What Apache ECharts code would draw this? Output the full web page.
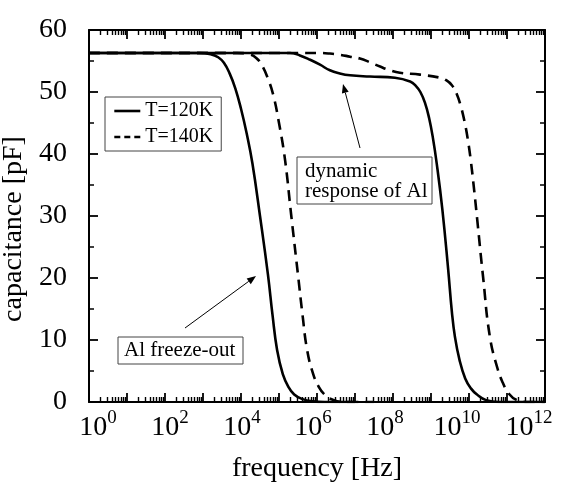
<!DOCTYPE html>
<html><head><meta charset="utf-8">
<script src="https://cdn.jsdelivr.net/npm/echarts@6/dist/echarts.min.js"></script>
<style>html,body{margin:0;padding:0;background:#fff}#c{width:562px;height:484px}</style>
</head><body><div id="c"></div>
<script>
// x values are log10(frequency / Hz)
const xMin = 0, xMax = 12;
const yMin = 0, yMax = 60;
const xLabelExps = [0, 2, 4, 6, 8, 10, 12];
const yTickLabels = [0, 10, 20, 30, 40, 50, 60];

// T=120K, Al freeze-out step
const t120FreezeLogF = [0, 2.6, 2.9, 3.2, 3.4, 3.55, 3.7, 3.85, 4.0, 4.15, 4.3, 4.5, 4.71, 4.83, 4.95, 5.1, 5.25, 5.4, 5.6, 5.9, 6.2, 7];
const t120FreezeC    = [56.3, 56.3, 56.3, 56.1, 55.6, 54.7, 53.0, 50.6, 47.3, 43.3, 38.5, 30.0, 20.5, 14.0, 8.4, 4.5, 2.4, 1.2, 0.5, 0.1, 0, 0];
// T=140K, Al freeze-out step
const t140FreezeLogF = [0, 3.6, 3.9, 4.2, 4.4, 4.55, 4.7, 4.85, 5.0, 5.16, 5.32, 5.5, 5.62, 5.74, 5.9, 6.05, 6.2, 6.4, 6.7, 7.5];
const t140FreezeC    = [56.3, 56.3, 56.3, 56.1, 55.5, 54.3, 52.3, 49.5, 45.0, 39.0, 30.2, 20.5, 14.0, 8.4, 4.5, 2.4, 1.2, 0.4, 0, 0];
// T=120K, dynamic response of Al + high-frequency step
const t120DynLogF = [0, 5.0, 5.29, 5.55, 5.82, 6.08, 6.34, 6.6, 6.87, 7.39, 8.05, 8.45, 8.6, 8.72, 8.84, 8.95, 9.05, 9.15, 9.30, 9.45, 9.55, 9.63, 9.75, 9.9, 10.05, 10.21, 10.45, 10.8, 12];
const t120DynC    = [56.3, 56.3, 56.3, 55.9, 55.2, 54.4, 53.5, 53.0, 52.7, 52.5, 52.3, 51.7, 51.0, 50.0, 48.3, 45.8, 42.6, 38.5, 31.0, 21.5, 14.5, 10.5, 6.8, 3.8, 2.2, 1.2, 0.3, 0, 0];
// T=140K, dynamic response of Al + high-frequency step
const t140DynLogF = [0, 6.0, 6.34, 6.61, 6.87, 7.13, 7.39, 7.66, 7.92, 8.18, 8.71, 9.24, 9.4, 9.55, 9.67, 9.78, 9.88, 9.97, 10.05, 10.13, 10.21, 10.37, 10.55, 10.76, 10.89, 11.03, 11.26, 11.61, 12];
const t140DynC    = [56.3, 56.3, 56.2, 56.0, 55.7, 55.4, 54.8, 54.1, 53.5, 53.1, 52.8, 52.3, 51.9, 51.1, 49.8, 47.8, 45.3, 42.3, 38.8, 34.5, 29.8, 20.2, 10.5, 5.2, 3.1, 1.5, 0.3, 0, 0];

const legendNames = ['T=120K', 'T=140K'];

const pair = (xs, ys) => xs.map((x, i) => [x, ys[i]]);
const FONT = "'Liberation Serif','DejaVu Serif','Times New Roman',serif";
const DASH = [11, 7];

const minorX = [];
for (let n = xMin; n < xMax; n++) for (let k = 2; k <= 9; k++) minorX.push(n + Math.log10(k));

// rich styles for "10^n" labels; slight per-label horizontal nudge like the original typesetting
const xRich = {};
xLabelExps.forEach(v => {
  const d = Math.round(9 - 2.1 * v);
  xRich['b' + v] = { fontFamily: FONT, fontSize: 28, color: '#000', lineHeight: 30, padding: [0, 0, 0, Math.max(0, 2 * d)] };
  xRich['s' + v] = { fontFamily: FONT, fontSize: 19, color: '#000', lineHeight: 30, padding: [0, Math.max(0, -2 * d), 20, 0] };
});

const axisLineStyle = { color: '#000', width: 2 };
function xAxisBase(pos, showLabels, minor) {
  return {
    type: 'value', position: pos, min: xMin, max: xMax, interval: 1,
    axisLine: { show: !minor, onZero: false, lineStyle: axisLineStyle },
    axisTick: minor
      ? { show: true, inside: true, length: 5, lineStyle: { color: '#000', width: 1.4 }, customValues: minorX }
      : { show: true, inside: true, length: 9, lineStyle: { color: '#000', width: 1.8 } },
    axisLabel: showLabels ? {
      show: true, margin: 11, customValues: xLabelExps,
      formatter: v => '{b' + v + '|10}{s' + v + '|' + v + '}',
      rich: xRich
    } : { show: false },
    splitLine: { show: false },
    name: showLabels ? 'frequency [Hz]' : '',
    nameLocation: 'middle', nameGap: 53,
    nameTextStyle: { fontFamily: FONT, fontSize: 28, color: '#000' }
  };
}
function yAxisBase(pos, showLabels) {
  return {
    type: 'value', position: pos, min: yMin, max: yMax, interval: 10,
    axisLine: { show: true, onZero: false, lineStyle: axisLineStyle },
    axisTick: { show: true, inside: true, length: 9, lineStyle: { color: '#000', width: 1.8 } },
    minorTick: { show: true, splitNumber: 2, length: 5, lineStyle: { color: '#000', width: 1.5 } },
    axisLabel: showLabels ? { show: true, margin: 22, customValues: yTickLabels, fontFamily: FONT, fontSize: 28, color: '#000' } : { show: false },
    splitLine: { show: false },
    name: showLabels ? 'capacitance [pF]' : '',
    nameLocation: 'middle', nameGap: 52,
    nameTextStyle: { fontFamily: FONT, fontSize: 28, color: '#000', padding: [0, 26, 0, 0] }
  };
}

function lineSeries(name, data, dashed) {
  return {
    name, type: 'line', data, symbol: 'none', smooth: 0.45,
    xAxisIndex: 0, yAxisIndex: 0, z: 3,
    lineStyle: { color: '#000', width: 2.6, type: dashed ? DASH : 'solid' },
    itemStyle: { color: '#000' }
  };
}

const chart = echarts.init(document.getElementById('c'), null, { renderer: 'canvas' });

function arrow(x1, y1, x2, y2) {
  const ang = Math.atan2(y2 - y1, x2 - x1);
  const L = 9, W = 3.5;
  const bx = x2 - L * Math.cos(ang), by = y2 - L * Math.sin(ang);
  const px = -Math.sin(ang), py = Math.cos(ang);
  return [
    { type: 'line', shape: { x1, y1, x2: bx, y2: by }, style: { stroke: '#000', lineWidth: 1 }, z: 10 },
    { type: 'polygon', shape: { points: [[x2, y2], [bx + px * W, by + py * W], [bx - px * W, by - py * W]] }, style: { fill: '#000' }, z: 10 }
  ];
}

const graphics = [
  { type: 'rect', shape: { x: 297, y: 157, width: 135, height: 47 }, style: { fill: '#fff', stroke: '#444', lineWidth: 1 }, z: 10 },
  { type: 'text', x: 305, y: 161, style: { text: 'dynamic\nresponse of Al', font: '21px ' + FONT, fill: '#000', lineHeight: 20 }, z: 11 },
  { type: 'rect', shape: { x: 118, y: 337, width: 125, height: 27 }, style: { fill: '#fff', stroke: '#444', lineWidth: 1 }, z: 10 },
  { type: 'text', x: 124, y: 340, style: { text: 'Al freeze-out', font: '21px ' + FONT, fill: '#000', lineHeight: 21 }, z: 11 },
  ...arrow(360, 148, 343, 84),
  ...arrow(185, 328, 256, 276)
];

chart.setOption({
  animation: false,
  backgroundColor: '#fff',
  grid: { left: 89, right: 17, top: 30, bottom: 82, containLabel: false, outerBoundsMode: 'none' },
  xAxis: [xAxisBase('bottom', true, false), xAxisBase('bottom', false, true), xAxisBase('top', false, false), xAxisBase('top', false, true)],
  yAxis: [yAxisBase('left', true), yAxisBase('right', false)],
  legend: {
    data: [
      { name: legendNames[0], lineStyle: { type: 'solid', width: 2.6, color: '#000' } },
      { name: legendNames[1], lineStyle: { type: [6, 4], width: 2.6, color: '#000' } }
    ],
    orient: 'vertical', left: 105, top: 97,
    itemWidth: 26, itemHeight: 14, itemGap: 6,
    padding: [4, 8, 4, 8],
    borderColor: '#444', borderWidth: 1, backgroundColor: '#fff',
    itemStyle: { color: 'rgba(0,0,0,0)', borderWidth: 0, opacity: 0 },
    textStyle: { fontFamily: FONT, fontSize: 20, color: '#000' }
  },
  series: [
    lineSeries(legendNames[0], pair(t120FreezeLogF, t120FreezeC), false),
    lineSeries(legendNames[1], pair(t140FreezeLogF, t140FreezeC), true),
    lineSeries(legendNames[0], pair(t120DynLogF, t120DynC), false),
    lineSeries(legendNames[1], pair(t140DynLogF, t140DynC), true)
  ],
  graphic: graphics
});
</script></body></html>
